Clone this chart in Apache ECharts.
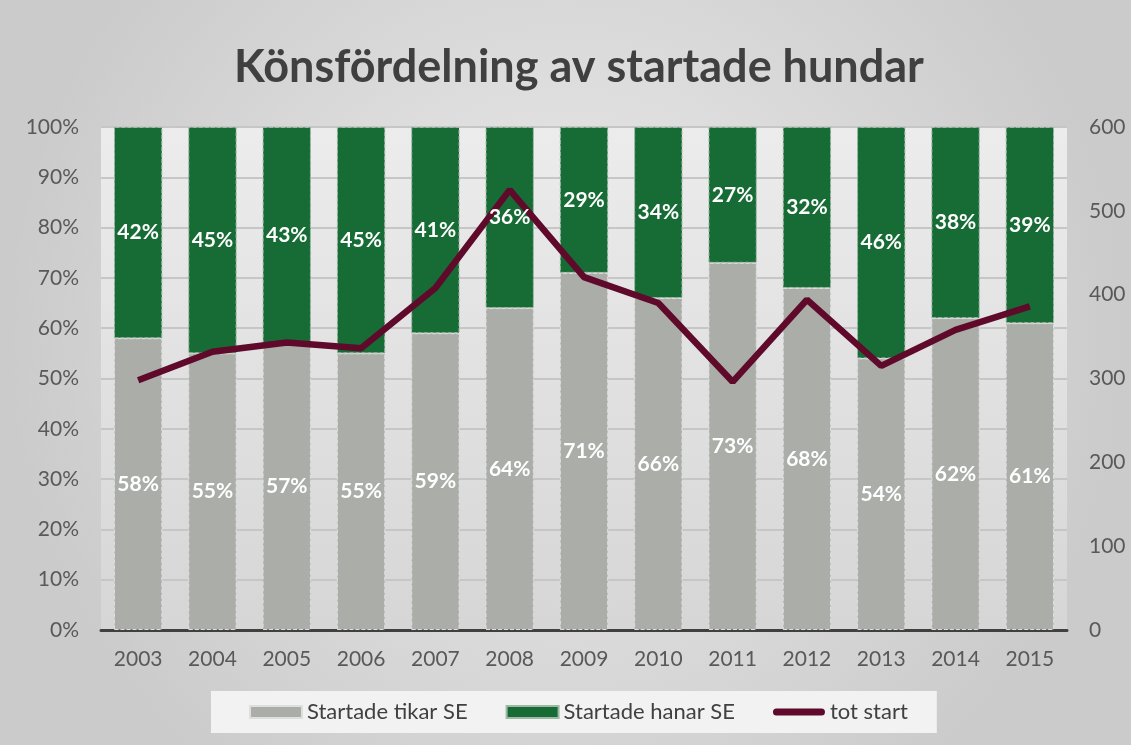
<!DOCTYPE html>
<html>
<head>
    <meta charset="UTF-8"/>
    <title>Könsfördelning av startade hundar</title>
    <style>
        html, body{
            margin: 0;
        }
    </style>
    <script src="https://cdn.jsdelivr.net/npm/echarts@6/dist/echarts.min.js"></script>
</head>
<body>
<div id="container" style="width: 1131px;height: 745px;"></div>

<script>
  var years = ['2003', '2004', '2005', '2006', '2007', '2008', '2009', '2010', '2011', '2012', '2013', '2014', '2015'];
  // andel i procent
  var tikar = [58, 55, 57, 55, 59, 64, 71, 66, 73, 68, 54, 62, 61];
  var hanar = [42, 45, 43, 45, 41, 36, 29, 34, 27, 32, 46, 38, 39];
  // totalt antal startande
  var totStart = [298, 332, 343, 336, 408, 525, 421, 390, 296, 394, 315, 358, 386];

  var grayCol = '#abada8';
  var greenCol = '#176b35';
  var lineCol = '#5f0a2a';
  var font = 'Lato, "Open Sans", sans-serif';

  var dom = document.getElementById("container");
  var myChart = echarts.init(dom);

  var lbl = {
      show: true,
      position: 'inside',
      color: '#ffffff',
      fontFamily: font,
      fontWeight: 'bold',
      fontSize: 21,
      formatter: '{c}%'
  };

  var option = {
      backgroundColor: {
          type: 'radial', x: 0.5, y: 0.45, r: 0.75,
          colorStops: [{offset: 0, color: '#ececec'}, {offset: 1, color: '#cbcbcb'}]
      },
      animation: false,
      title: {
          text: 'Könsfördelning av startade hundar',
          left: 229,
          top: 40,
          textStyle: {fontFamily: font, fontWeight: 'bold', fontSize: 45, color: '#404040'}
      },
      legend: {
          top: 691,
          left: 211,
          height: 24,
          backgroundColor: '#f2f2f2',
          padding: [10, 29, 10, 38],
          itemGap: 38,
          itemWidth: 52,
          itemHeight: 12,
          textStyle: {fontFamily: font, fontSize: 22, color: '#404040'},
          data: [
              {name: 'Startade tikar SE', icon: 'rect'},
              {name: 'Startade hanar SE', icon: 'rect'},
              {name: 'tot start', icon: 'path://M3.5,0 L48.5,0 A3.5,3.5 0 0 1 48.5,7 L3.5,7 A3.5,3.5 0 0 1 3.5,0 Z'}
          ]
      },
      grid: {
          left: 101, right: 64, top: 127, bottom: 115,
          show: true,
          borderWidth: 0,
          backgroundColor: {
              type: 'linear', x: 0, y: 0, x2: 0, y2: 1,
              colorStops: [{offset: 0, color: '#ececec'}, {offset: 1, color: '#d6d6d6'}]
          }
      },
      xAxis: {
          type: 'category',
          data: years,
          axisLine: {lineStyle: {color: '#404040', width: 3}},
          axisTick: {length: 6, lineStyle: {color: '#404040', width: 3}},
          axisLabel: {fontFamily: font, fontSize: 21, color: '#595959', margin: 19}
      },
      yAxis: [{
          type: 'value',
          min: 0, max: 100, interval: 10,
          axisLabel: {formatter: '{value}%', fontFamily: font, fontSize: 21, color: '#595959', margin: 22},
          splitLine: {lineStyle: {color: '#c6c6c6', width: 2}}
      }, {
          type: 'value',
          min: 0, max: 600, interval: 100,
          axisLabel: {fontFamily: font, fontSize: 21, color: '#595959', margin: 22},
          splitLine: {show: false}
      }],
      series: [{
          name: 'Startade tikar SE',
          type: 'bar',
          stack: 'a',
          barWidth: '65%',
          z: 2,
          data: tikar,
          itemStyle: {color: grayCol, borderColor: '#dedede', borderWidth: 1, borderType: 'dashed'}
      }, {
          name: 'Startade hanar SE',
          type: 'bar',
          stack: 'a',
          z: 2,
          data: hanar,
          itemStyle: {color: greenCol, borderColor: '#9fb8a6', borderWidth: 1, borderType: 'dashed'}
      }, {
          name: 'tot start',
          type: 'line',
          yAxisIndex: 1,
          z: 3,
          symbol: 'none',
          data: totStart,
          lineStyle: {color: lineCol, width: 6.5},
          itemStyle: {color: lineCol}
      }, {
          // etiketter ovanpå linjen
          name: 'lbl1',
          type: 'bar',
          stack: 'b',
          barGap: '-100%',
          barWidth: '65%',
          z: 4,
          data: tikar,
          itemStyle: {color: 'transparent'},
          label: lbl
      }, {
          name: 'lbl2',
          type: 'bar',
          stack: 'b',
          z: 4,
          data: hanar,
          itemStyle: {color: 'transparent'},
          label: lbl
      }]
  };

  myChart.setOption(option);
</script>

</body>
</html>
